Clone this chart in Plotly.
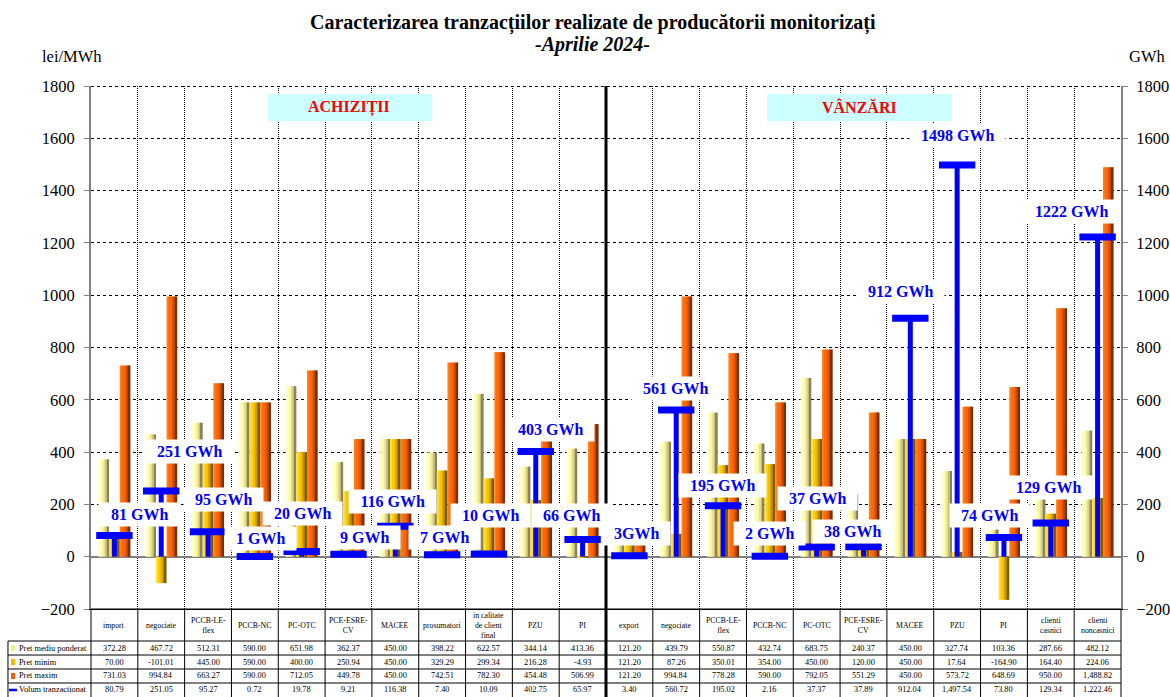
import math
import plotly.graph_objects as go

# Categorii (capul de tabel) - 11 achizitii, 11 vanzari
categorii = ["import", "negociate", "PCCB-LE-<br>flex", "PCCB-NC", "PC-OTC", "PCE-ESRE-<br>CV",
             "MACEE", "prosumatori", "in calitate<br>de client<br>final", "PZU", "PI",
             "export", "negociate", "PCCB-LE-<br>flex", "PCCB-NC", "PC-OTC", "PCE-ESRE-<br>CV",
             "MACEE", "PZU", "PI", "clienti<br>casnici", "clienti<br>noncasnici"]

# lei/MWh
pret_mediu = [372.28, 467.72, 512.31, 590.00, 651.98, 362.37, 450.00, 398.22, 622.57, 344.14, 413.36,
              121.20, 439.79, 550.87, 432.74, 683.75, 240.37, 450.00, 327.74, 103.36, 287.66, 482.12]
pret_minim = [70.00, -101.01, 445.00, 590.00, 400.00, 250.94, 450.00, 329.29, 299.34, 216.28, -4.93,
              121.20, 87.26, 350.01, 354.00, 450.00, 120.00, 450.00, 17.64, -164.90, 164.40, 224.06]
pret_maxim = [731.03, 994.84, 663.27, 590.00, 712.05, 449.78, 450.00, 742.51, 782.30, 454.48, 506.99,
              121.20, 994.84, 778.28, 590.00, 792.05, 551.29, 450.00, 573.72, 648.69, 950.00, 1488.82]
# GWh
volum = [80.79, 251.05, 95.27, 0.72, 19.78, 9.21, 116.38, 7.40, 10.09, 402.75, 65.97,
         3.40, 560.72, 195.02, 2.16, 37.37, 37.89, 912.04, 1497.54, 73.80, 129.34, 1222.46]

serii_tabel = ["Pret mediu ponderat", "Pret minim", "Pret maxim", "Volum tranzactionat"]

# pozitia casutelor cu eticheta de volum (x in categorii, y in GWh)
eticheta_x = [0.53, 1.61, 2.32, 3.11, 4.01, 5.35, 5.93, 7.06, 8.04, 9.32, 9.77,
              11.16, 11.99, 12.98, 14.00, 15.01, 15.77, 16.78, 18.00, 18.70, 19.96, 20.45]
eticheta_y = [163, 404, 217, 68, 167, 72, 213, 75, 156, 485, 156,
              87, 645, 274, 90, 221, 98, 1016, 1609, 156, 263, 1322]

n = len(categorii)
x = list(range(n))
ticks = list(range(-200, 1801, 200))

# nuante pentru efectul de cilindru (stanga -> dreapta)
galben = ["#FFFFD0", "#FFFFB0", "#F8F4A0", "#E4DC90", "#C0B878", "#8C8458"]
auriu = ["#FFE040", "#FFD000", "#F4C000", "#D8A400", "#AC8000", "#7C5C00"]
portocaliu = ["#FF8020", "#FF6A08", "#FF6600", "#E05600", "#B04200", "#7C2E00"]

latime = 0.228
pas = latime / len(galben)

W, H = 1170, 697
ml, mr, mt, mb = 91, 49, 86, 88
pw, ph = W - ml - mr, H - mt - mb

fig = go.Figure()

for valori, nuante, start in [(pret_mediu, galben, -1.5 * latime),
                              (pret_minim, auriu, -0.5 * latime),
                              (pret_maxim, portocaliu, 0.5 * latime)]:
    for j, c in enumerate(nuante):
        w = pas * 1.4 if j < len(nuante) - 1 else pas
        fig.add_trace(go.Bar(
            x=x, y=valori, width=w, offset=start + j * pas,
            marker=dict(color=c, line=dict(width=0)),
            hoverinfo="skip",
        ))

# volum tranzactionat - linie verticala cu bara orizontala
fig.add_trace(go.Scatter(
    x=x, y=volum, yaxis="y2", mode="markers",
    marker=dict(symbol="line-ew", size=26, color="#0000FF", line=dict(width=7, color="#0000FF")),
    error_y=dict(type="data", symmetric=False, array=[0] * n, arrayminus=volum,
                 thickness=5, width=0, color="#0000FF"),
))

fig.update_layout(
    width=W, height=H,
    margin=dict(l=ml, r=mr, t=mt, b=mb),
    paper_bgcolor="white", plot_bgcolor="rgba(0,0,0,0)",
    barmode="overlay", showlegend=False,
    font=dict(family="Liberation Serif", color="black"),
    xaxis=dict(range=[-0.5, n - 0.5], showticklabels=False, ticks="", showgrid=False,
               zeroline=False, automargin=False,
               showline=True, linecolor="black", linewidth=1),
    yaxis=dict(range=[-200, 1800], tickvals=ticks, showgrid=False,
               zeroline=True, zerolinecolor="#808080",
               zerolinewidth=2, showline=True, linecolor="#808080", linewidth=2,
               ticks="outside", ticklen=5, tickcolor="#808080", tickfont=dict(size=16.5),
               ticklabelstandoff=6, automargin=False),
    yaxis2=dict(range=[-200, 1800], tickvals=ticks, overlaying="y", side="right",
                showgrid=False, zeroline=False, showline=True, linecolor="#808080",
                linewidth=2, ticks="outside", ticklen=5, tickcolor="#808080",
                tickfont=dict(size=16.5), ticklabelstandoff=5, automargin=False),
)

shapes = []
ann = []

# grila punctata, aliniata pe pixel ca sa ramana clara
for t in ticks:
    if t in (-200, 0):
        continue
    py = math.floor(mt + (1800 - t) / 2000 * ph) + 0.5
    yp = 1 - (py - mt) / ph
    shapes.append(dict(type="line", xref="paper", yref="paper", x0=0, x1=1, y0=yp, y1=yp,
                       line=dict(color="black", width=1, dash="dot"), layer="below"))
for k in range(1, n):
    if k == n // 2:
        continue
    px = math.floor(ml + k * pw / n) + 0.5
    xp = (px - ml) / pw
    shapes.append(dict(type="line", xref="paper", yref="paper", x0=xp, x1=xp, y0=0, y1=1,
                       line=dict(color="black", width=1, dash="1px,1px"), layer="below"))

# titluri
ann.append(dict(text="<b>Caracterizarea tranzacțiilor realizate de producătorii monitorizați</b>",
                x=0.487, y=1.1205, font=dict(size=20)))
ann.append(dict(text="<b><i>-Aprilie 2024-</i></b>", x=0.487, y=1.0784, font=dict(size=20)))
ann.append(dict(text="lei/MWh", x=-0.0495, y=1.0555, xanchor="left", font=dict(size=16.5)))
ann.append(dict(text="GWh", x=1.0447, y=1.0555, xanchor="right", font=dict(size=16.5)))

# casutele ACHIZITII / VANZARI
for x0, x1, xc, txt in [(0.1718, 0.3311, 0.2505, "ACHIZIȚII"), (0.6563, 0.8359, 0.7466, "VÂNZĂRI")]:
    shapes.append(dict(type="rect", xref="paper", yref="paper", x0=x0, x1=x1, y0=0.9331, y1=0.9847,
                       fillcolor="#CCFFFF", line=dict(width=0), layer="above"))
    ann.append(dict(text=f"<b>{txt}</b>", x=xc, y=0.9589, font=dict(size=16, color="#FF0000")))

# etichete volum
for i in range(n):
    cifre = len(str(round(volum[i])))
    sep = "" if i == 11 else " "
    tw = 16 * (0.5 * cifre + (0 if i == 11 else 0.25) + 2.334)
    fig.add_annotation(text=f"<b>{round(volum[i])}{sep}GWh</b>", x=eticheta_x[i], y=eticheta_y[i],
                       xref="x", yref="y2", showarrow=False, bgcolor="white",
                       xanchor="center", yanchor="middle", width=tw + 16, borderpad=3,
                       font=dict(size=16, color="#0000FF", family="Liberation Serif"))

# linia groasa dintre achizitii si vanzari
shapes.append(dict(type="line", xref="paper", yref="paper", x0=0.5, x1=0.5, y0=-0.1683, y1=1.0,
                   line=dict(color="black", width=3), layer="above"))

# tabel
y_top, y_hdr = 0.0, -0.0612
y_rows = [-0.0612, -0.0880, -0.1147, -0.1415]
y_bot = -0.1683
x_leg = -0.0806
for k in range(n + 1):
    shapes.append(dict(type="line", xref="paper", yref="paper", x0=k / n, x1=k / n, y0=y_bot, y1=y_top,
                       line=dict(color="black", width=1)))
shapes.append(dict(type="line", xref="paper", yref="paper", x0=x_leg, x1=x_leg, y0=y_bot, y1=y_hdr,
                   line=dict(color="black", width=1)))
shapes.append(dict(type="line", xref="paper", yref="paper", x0=0, x1=1, y0=y_top, y1=y_top,
                   line=dict(color="black", width=1)))
for yr in y_rows:
    shapes.append(dict(type="line", xref="paper", yref="paper", x0=x_leg, x1=1, y0=yr, y1=yr,
                       line=dict(color="black", width=1)))

for i in range(n):
    xc = (i + 0.5) / n
    ann.append(dict(text=categorii[i], x=xc, y=-0.0306, font=dict(size=7.8)))
    for r, valori in enumerate([pret_mediu, pret_minim, pret_maxim, volum]):
        ann.append(dict(text=f"{valori[i]:,.2f}", x=xc, y=-0.0746 - 0.02675 * r, font=dict(size=8.3)))

chei = ["#F4F090", "#F0B800", "#F06010"]
for r, nume in enumerate(serii_tabel):
    yc = -0.0746 - 0.02675 * r
    ann.append(dict(text=nume, x=-0.0718, y=yc, xanchor="left", font=dict(size=8.3)))
    if r < 3:
        shapes.append(dict(type="rect", xref="paper", yref="paper", x0=-0.0777, x1=-0.0738,
                           y0=yc - 0.006, y1=yc + 0.006, fillcolor=chei[r], line=dict(width=0)))
    else:
        shapes.append(dict(type="line", xref="paper", yref="paper", x0=-0.0796, x1=-0.0718,
                           y0=yc, y1=yc, line=dict(color="#0000FF", width=2.5)))

for a in ann:
    a.setdefault("xref", "paper")
    a.setdefault("yref", "paper")
    a.setdefault("xanchor", "center")
    a["yanchor"] = "middle"
    a["showarrow"] = False
    fig.add_annotation(**a)

fig.update_layout(shapes=shapes)
# pagina fara marginea implicita a browserului, fara bara de unelte
fig.write_html("out.html", config={"displayModeBar": False},
               post_script="document.body.style.margin='0px';")
